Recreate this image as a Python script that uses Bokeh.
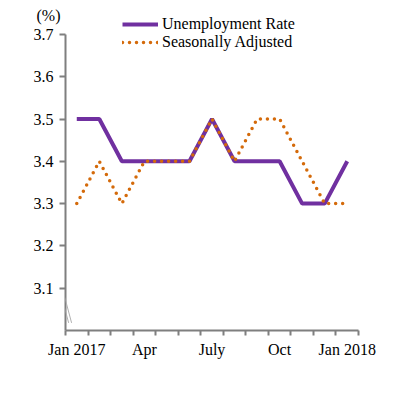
from bokeh.plotting import figure
from bokeh.models import (FixedTicker, Legend, LegendItem, Arrow, Range1d,
                          ColumnDataSource, LinearAxis)
from bokeh.embed import file_html
from bokeh.resources import INLINE

months = ["Jan 2017", "Feb", "Mar", "Apr", "May", "Jun", "July", "Aug", "Sep",
          "Oct", "Nov", "Dec", "Jan 2018"]
unemployment = [3.5, 3.5, 3.4, 3.4, 3.4, 3.4, 3.5, 3.4, 3.4, 3.4, 3.3, 3.3, 3.4]
seasonal = [3.3, 3.4, 3.3, 3.4, 3.4, 3.4, 3.5, 3.4, 3.5, 3.5, 3.4, 3.3, 3.3]
label_months = {0: "Jan 2017", 3: "Apr", 6: "July", 9: "Oct", 12: "Jan 2018"}
y_ticks = [3.1, 3.2, 3.3, 3.4, 3.5, 3.6, 3.7]
unit_label = "(%)"

FONT = "'Liberation Serif', 'Times New Roman', serif"
GRAY = "#7f7f7f"
PURPLE = "#7030A0"
ORANGE = "#D46A0A"

xs = list(range(len(months)))
src = ColumnDataSource(dict(x=xs, u=unemployment, s=seasonal))

p = figure(width=398, height=388, output_backend="svg", toolbar_location=None,
           x_range=Range1d(-0.5, len(months) - 0.5),
           y_range=Range1d(3.0, 3.0 + 322 / 423.0),
           min_border_left=65, min_border_right=40, min_border_top=8,
           min_border_bottom=58)
p.outline_line_color = None
p.grid.visible = False
p.background_fill_color = "white"
p.border_fill_color = "white"

r1 = p.line("x", "u", source=src, line_color=PURPLE, line_width=4)
r2 = p.line("x", "s", source=src, line_color=ORANGE, line_width=3.5,
            line_dash="0 7", line_cap="round")

# x axis
xa = p.xaxis[0]
xa.ticker = FixedTicker(ticks=list(label_months.keys()),
                        minor_ticks=[i - 0.5 for i in range(len(months) + 1)])
xa.major_label_overrides = {k: v for k, v in label_months.items()}
xa.major_tick_line_color = None
xa.major_tick_out = 6
xa.major_tick_in = 0
xa.minor_tick_line_color = GRAY
xa.minor_tick_line_width = 2
xa.minor_tick_out = 5
xa.minor_tick_in = 0
xa.axis_line_color = GRAY
xa.axis_line_width = 2
xa.major_label_text_font = FONT
xa.major_label_text_font_size = "16px"
xa.major_label_text_color = "black"
xa.major_label_standoff = 4

# y axis
ya = p.yaxis[0]
ya.bounds = (3.0, 3.7)
ya.ticker = FixedTicker(ticks=y_ticks, minor_ticks=[])
ya.major_label_overrides = {t: f"{t:.1f}" for t in y_ticks}
ya.major_tick_line_color = GRAY
ya.major_tick_line_width = 2
ya.major_tick_out = 6
ya.major_tick_in = 0
ya.axis_line_color = GRAY
ya.axis_line_width = 2
ya.major_label_text_font = FONT
ya.major_label_text_font_size = "16px"
ya.major_label_text_color = "black"
ya.major_label_standoff = 6

# unit label as an outer, line-less axis
ua = LinearAxis(ticker=FixedTicker(ticks=[3.745], minor_ticks=[]),
                major_label_overrides={3.745: unit_label})
ua.axis_line_color = None
ua.major_tick_line_color = None
ua.minor_tick_line_color = None
ua.major_tick_out = 0
ua.major_tick_in = 0
ua.major_label_text_font = FONT
ua.major_label_text_font_size = "16px"
ua.major_label_text_color = "black"
ua.major_label_standoff = -30
p.add_layout(ua, "left")

# axis break marks
for dx in (0.0, 0.13):
    p.add_layout(Arrow(end=None, x_start=-0.66 + dx, y_start=3.078,
                       x_end=-0.36 + dx, y_end=3.018,
                       line_color="#b0b0b0", line_width=1))

legend = Legend(items=[LegendItem(label="Unemployment Rate", renderers=[r1]),
                       LegendItem(label="Seasonally Adjusted", renderers=[r2])],
                location=(57, 279))
legend.label_text_font = FONT
legend.label_text_font_size = "16px"
legend.label_text_color = "black"
legend.glyph_width = 36
legend.glyph_height = 18
legend.label_height = 18
legend.spacing = 0
legend.padding = 0
legend.margin = 0
legend.label_standoff = 4
legend.border_line_color = None
legend.background_fill_alpha = 0
p.add_layout(legend)

open("out.html", "w").write(file_html(p, INLINE))
